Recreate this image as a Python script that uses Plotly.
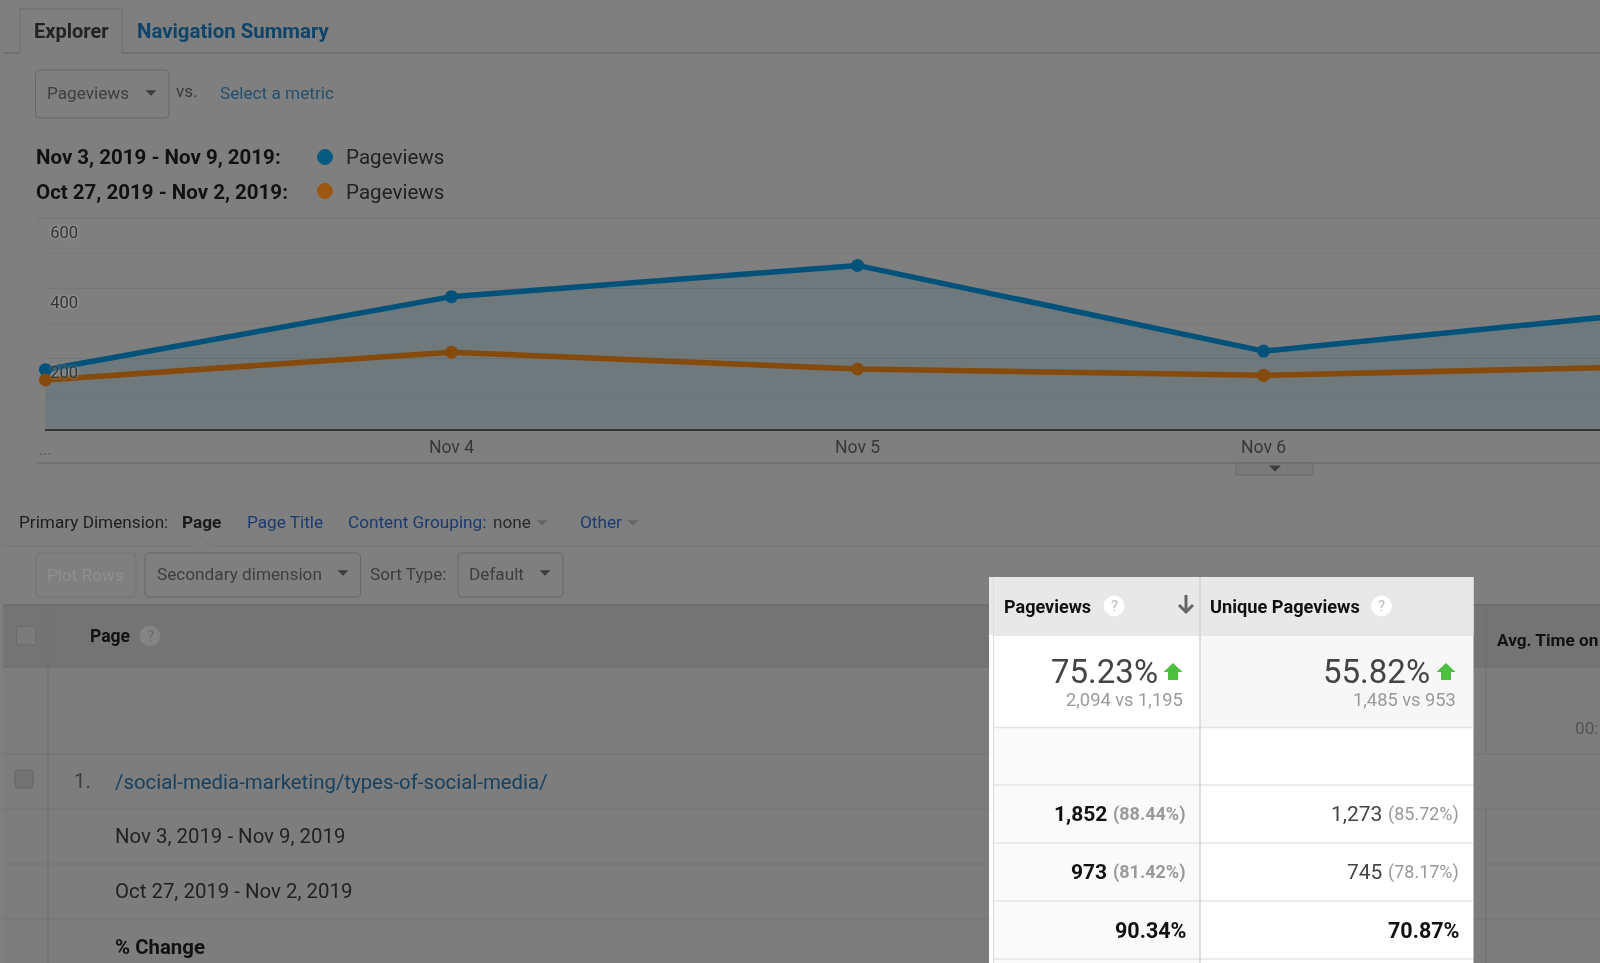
import plotly.graph_objects as go

W, H = 1600, 963

# chart data
dates = ['2019-11-03', '2019-11-04', '2019-11-05', '2019-11-06', '2019-11-07']
pageviews_now = [168, 376, 465, 221, 336]
pageviews_prev = [139, 218, 170, 152, 178]
x_tick_labels = ['...', 'Nov 4', 'Nov 5', 'Nov 6', 'Nov 7']
y_major = [200, 400, 600]
y_minor = [100, 300, 500]

# table data
pv_rows = [('1,852', '(88.44%)'), ('973', '(81.42%)')]
upv_rows = [('1,273', '(85.72%)'), ('745', '(78.17%)')]
pct_change = ['90.34%', '70.87%']

FONT = 'Roboto'
BG = '#7f7f7f'
LINE = '#707070'

shapes = []
notes = []


def px(x):
    return x / W


def py(y):
    return 1 - y / H


def rect(x0, y0, x1, y1, fill=None, line=None, lw=1):
    shapes.append(dict(type='rect', xref='paper', yref='paper', x0=px(x0), x1=px(x1),
                       y0=py(y0), y1=py(y1), fillcolor=fill or 'rgba(0,0,0,0)',
                       line=dict(color=line or 'rgba(0,0,0,0)', width=lw if line else 0)))


def rrect(x0, y0, x1, y1, fill, line, r=4):
    # box with rounded corners
    p = lambda a, b: f'{px(a):.5f},{py(b):.5f}'
    d = (f'M {p(x0 + r, y0)} L {p(x1 - r, y0)} Q {p(x1, y0)} {p(x1, y0 + r)} '
         f'L {p(x1, y1 - r)} Q {p(x1, y1)} {p(x1 - r, y1)} '
         f'L {p(x0 + r, y1)} Q {p(x0, y1)} {p(x0, y1 - r)} '
         f'L {p(x0, y0 + r)} Q {p(x0, y0)} {p(x0 + r, y0)} Z')
    shapes.append(dict(type='path', xref='paper', yref='paper', path=d, fillcolor=fill,
                       line=dict(color=line, width=1)))


def hline(x0, x1, y, color=LINE, lw=1):
    shapes.append(dict(type='line', xref='paper', yref='paper', x0=px(x0), x1=px(x1),
                       y0=py(y), y1=py(y), line=dict(color=color, width=lw)))


def vline(x, y0, y1, color=LINE, lw=1):
    shapes.append(dict(type='line', xref='paper', yref='paper', x0=px(x), x1=px(x),
                       y0=py(y0), y1=py(y1), line=dict(color=color, width=lw)))


def poly(points, fill=None, line=None, lw=1):
    d = 'M ' + ' L '.join(f'{px(a):.5f},{py(b):.5f}' for a, b in points)
    if fill:
        d += ' Z'
    shapes.append(dict(type='path', xref='paper', yref='paper', path=d,
                       fillcolor=fill or 'rgba(0,0,0,0)',
                       line=dict(color=line or 'rgba(0,0,0,0)', width=lw if line else 0)))


def dot(cx, cy, r, fill, line=None):
    shapes.append(dict(type='circle', xref='paper', yref='paper', x0=px(cx - r), x1=px(cx + r),
                       y0=py(cy + r), y1=py(cy - r), fillcolor=fill,
                       line=dict(color=line or fill, width=1)))


def text(x, y, s, size=17.2, color='#222222', bold=False, anchor='left'):
    notes.append(dict(xref='paper', yref='paper', x=px(x), y=py(y), text=s, showarrow=False,
                      xanchor=anchor, yanchor='middle', borderpad=0,
                      font=dict(family=FONT, size=size, color=color,
                                weight=700 if bold else 400)))


def caret(cx, cy, color='#3d3d3d', half=5.5, h=5.5):
    poly([(cx - half, cy - h / 2), (cx + half, cy - h / 2), (cx, cy + h / 2)], fill=color)


def help_mark(cx, cy, fill, mark):
    dot(cx, cy, 10, fill)
    text(cx, cy, '?', 15, mark, anchor='center')


def up_arrow(cx, cy):
    poly([(cx, cy - 9), (cx + 9.5, cy), (cx + 5, cy), (cx + 5, cy + 8),
          (cx - 5, cy + 8), (cx - 5, cy), (cx - 9.5, cy)], fill='#4fbf3f')


# tabs
hline(3, W, 53, '#6c6c6c', 1.5)
poly([(20, 53), (20, 9), (122, 9), (122, 53)], line='#6c6c6c', lw=1)
rect(20.5, 10, 121.5, 54, BG)
text(33, 31, 'Explorer', 20, '#222222', True)
text(135.5, 31, 'Navigation Summary', 20.4, '#0f4468', True)

# metric selector
rrect(35.5, 70, 169, 118, BG, '#686868')
text(46, 93, 'Pageviews', 17.2, '#3e3e3e')
caret(151, 93)
text(175, 91, 'vs.', 17.2, '#3a3a3a')
text(218.5, 93, 'Select a metric', 17.2, '#264f6d')

# legend
text(34.5, 157, 'Nov 3, 2019 - Nov 9, 2019:', 20.5, '#111111', True)
text(34.5, 192, 'Oct 27, 2019 - Nov 2, 2019:', 20.5, '#111111', True)
dot(325, 157, 7.5, '#045a80')
dot(325, 191, 7.5, '#9c5810')
text(345, 157, 'Pageviews', 20.6, '#222222')
text(345, 192, 'Pageviews', 20.6, '#222222')

# strip under the chart
hline(37, W, 463, '#6d6d6d', 1.5)
rect(1236, 463, 1313, 475, '#7a7a7a', '#6a6a6a', 1)
caret(1275, 468.5, '#3d3d3d', 6, 6)

# dimension row
text(18, 522, 'Primary Dimension:', 17.2, '#1e1e1e')
text(181, 522, 'Page', 17.2, '#1a1a1a', True)
text(245.5, 522, 'Page Title', 17.2, '#1b3a72')
text(347, 522, 'Content Grouping:', 17.2, '#1b3a72')
text(492, 522, 'none', 17.2, '#2a2a2a')
caret(542, 523, '#666666')
text(578.5, 522, 'Other', 17.2, '#1b3a72')
caret(633, 523, '#666666')
poly([(3, 546), (193, 546), (202, 538), (211, 546), (W, 546)], line='#767676', lw=1)

# table tools
rrect(36, 553, 136, 597, BG, '#747474')
text(46, 575, 'Plot Rows', 17.2, '#8e8e8e')
rrect(145, 553, 360.5, 597, BG, '#686868')
text(156, 574, 'Secondary dimension', 17.2, '#3e3e3e')
caret(343, 573)
text(368.5, 574, 'Sort Type:', 17.2, '#3e3e3e')
rrect(458, 553, 563, 597, BG, '#686868')
text(468.5, 574, 'Default', 17.2, '#3e3e3e')
caret(545, 573)

# table body
rect(3, 605, W, 667, '#747474')
rect(3, 667, W, H, '#7d7d7d')
hline(3, W, 605, '#6b6b6b', 1.5)
hline(3, W, 667, '#6b6b6b', 1)
for y in [754, 809, 864, 919]:
    hline(3, W, y, '#747474', 1)
vline(48, 605, H, '#6e6e6e', 1)
vline(1486, 605, 754, '#6e6e6e', 1)
vline(1486, 809, H, '#6e6e6e', 1)
rect(16.5, 626, 36, 645, '#7a7a7a', '#696969', 1)
text(89, 636, 'Page', 17.5, '#111111', True)
help_mark(150, 636, '#848484', '#6a6a6a')
rrect(15, 770, 33, 788, '#727272', '#646464', 3)
text(73, 781, '1.', 20.4, '#3d3d3d')
text(114, 782, '/social-media-marketing/types-of-social-media/', 20.4, '#17415f')
text(114, 836, 'Nov 3, 2019 - Nov 9, 2019', 20.4, '#222222')
text(114, 891, 'Oct 27, 2019 - Nov 2, 2019', 20.4, '#222222')
text(114, 947, '% Change', 20.4, '#111111', True)
text(1495.5, 640, 'Avg. Time on', 17.2, '#111111', True)
text(1573.5, 728, '00:', 17.2, '#545454')

# highlighted columns
rect(989, 577, 1473.5, H, '#ffffff')
rect(989, 577, 1473.5, 635, '#e8e8e8')
rect(993.5, 635, 1200, 727.5, '#ffffff')
rect(1200, 635, 1473, 727.5, '#f7f7f7')
rect(993.5, 727.5, 1200, H, '#fafafa')
for y in [635, 727.5, 785, 843, 901, 959]:
    hline(993.5, 1473, y, '#e4e4e4', 1.5)
vline(993.5, 577, H, '#dcdcdc', 1)
vline(1200, 577, H, '#d4d4d4', 1.5)

text(1003, 606, 'Pageviews', 18, '#111111', True)
help_mark(1114, 606, '#ffffff', '#bdbdbd')
vline(1186, 595, 612, '#666666', 3)
poly([(1179, 605), (1186, 612), (1193, 605)], line='#666666', lw=3)
text(1209, 606, 'Unique Pageviews', 18.2, '#111111', True)
help_mark(1381.5, 606, '#ffffff', '#bdbdbd')

text(1159, 671, '75.23%', 33, '#444444', anchor='right')
up_arrow(1173, 672)
text(1184, 699, '2,094 vs 1,195', 18.3, '#9a9a9a', anchor='right')
text(1431, 671, '55.82%', 33, '#444444', anchor='right')
up_arrow(1446, 672)
text(1457, 699, '1,485 vs 953', 18.3, '#9a9a9a', anchor='right')

for y, (pv, upv) in zip([814, 872], zip(pv_rows, upv_rows)):
    text(1108, y, pv[0], 21, '#111111', True, 'right')
    text(1186, y, pv[1], 18, '#999999', True, 'right')
    text(1383, y, upv[0], 21, '#444444', anchor='right')
    text(1460, y, upv[1], 18, '#999999', anchor='right')
text(1187, 930, pct_change[0], 21.5, '#111111', True, 'right')
text(1460, 930, pct_change[1], 21.5, '#111111', True, 'right')

# top gridline sits on the edge of the axis range
hline(36, W, 218, '#757575', 1)

# plotly hides an x tick label that sits on an inside y axis, so the first one goes here
notes.append(dict(xref='x', yref='paper', x=dates[0], y=py(449), text=x_tick_labels[0], showarrow=False,
                  xanchor='center', yanchor='middle', borderpad=0,
                  font=dict(family=FONT, size=16, color='#555555')))

fig = go.Figure()
fig.add_trace(go.Scatter(x=dates, y=pageviews_now, mode='lines+markers', fill='tozeroy',
                         fillcolor='rgba(0,79,100,0.126)', cliponaxis=False,
                         line=dict(color='#00527a', width=5.5), marker=dict(size=13, color='#00527a')))
fig.add_trace(go.Scatter(x=dates, y=pageviews_prev, mode='lines+markers', cliponaxis=False,
                         line=dict(color='#854a0c', width=5.5), marker=dict(size=13, color='#854a0c')))

fig.update_layout(
    width=W, height=H, margin=dict(l=0, r=0, t=0, b=0), autosize=False, showlegend=False,
    paper_bgcolor=BG, plot_bgcolor='rgba(0,0,0,0)', shapes=shapes, annotations=notes,
    font=dict(family=FONT),
    xaxis=dict(domain=[px(45.2), 1], type='date', range=['2019-11-02 23:59:00', '2019-11-06 19:53:00'],
               automargin=False, tickmode='array', tickvals=dates[1:], ticktext=x_tick_labels[1:],
               showgrid=False, zeroline=False, showline=True, linecolor='#333333', linewidth=2,
               ticks='', ticklabelstandoff=1,
               tickfont=dict(family=FONT, size=17.6, color='#383838')),
    yaxis=dict(domain=[py(428.7), py(218)], range=[0, 600], automargin=False, tickmode='array',
               tickvals=y_major, ticklabelposition='inside', ticklabelstandoff=2, ticklabelshift=14,
               zeroline=False, showline=False, ticks='', gridcolor='#757575', gridwidth=1,
               minor=dict(tickvals=y_minor, showgrid=True, gridcolor='#7a7a7a', gridwidth=1),
               tickfont=dict(family=FONT, size=16.5, color='#333333', shadow='0 0 3px #b5b5b5')),
)

# the reference is a soft, upscaled screenshot
post = ("document.documentElement.style.background='#7f7f7f';"
        "document.body.style.margin='0';document.body.style.overflow='hidden';"
        "document.body.style.filter='blur(0.55px)';")
fig.write_html('out.html', config=dict(displayModeBar=False), post_script=post)
